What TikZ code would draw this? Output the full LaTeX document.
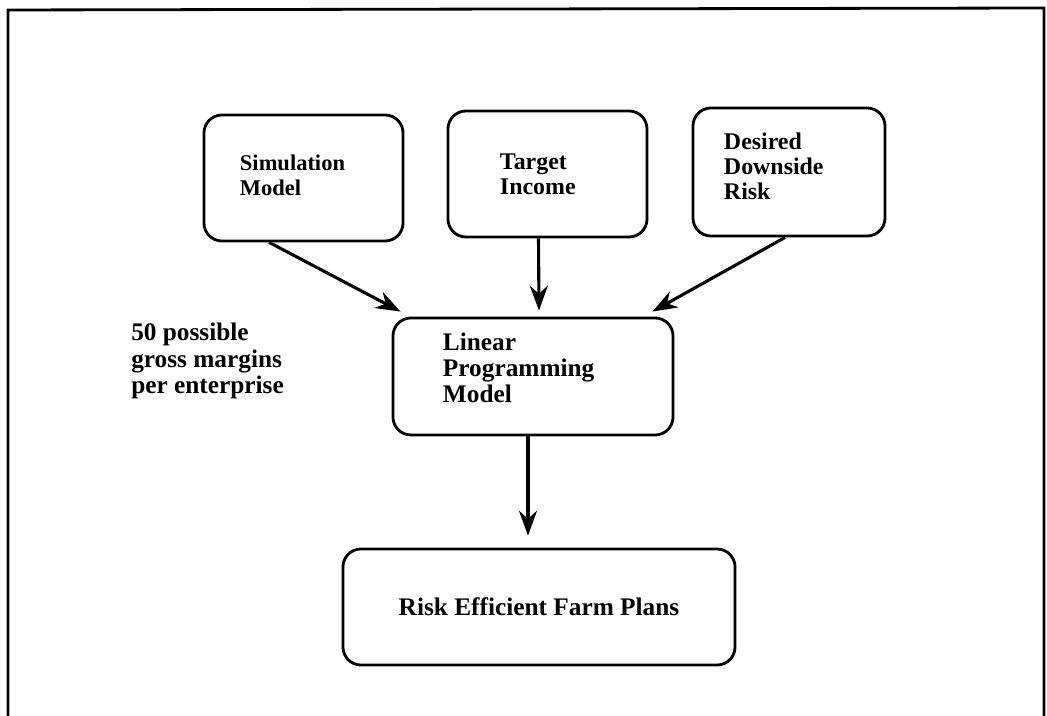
\documentclass[tikz,border=0pt]{standalone}
\usepackage{fontspec}
\setmainfont{Liberation Serif}
\usetikzlibrary{arrows.meta}
\usetikzlibrary{calc}

\newcommand{\liftby}[1]{\par\hrule height 0pt depth #1 width 0pt}

\begin{document}
\begin{tikzpicture}[x = 0.025cm, y = 0.025cm]
\tikzstyle{BoxStyle}=[draw, line width = 2pt, rounded corners = 0.45cm,
align = left, inner ysep = 0pt, font = \bfseries\fontsize{17}{17.8}\selectfont]
\tikzstyle{ArrowStyle}=[line width = 2.2pt, -{Stealth[length = 0.62cm, width = 0.45cm]}]
\useasboundingbox (0,0) rectangle (1047,716);
% frame, open at the bottom
\draw[line width = 2pt] (8,0) -- (8,706) -- (1044,708) -- (1044,0);
\node[BoxStyle, minimum width = 4.975cm, minimum height = 3.15cm, inner xsep = 0.9cm,
text width = 3.175cm, font = \bfseries\fontsize{16}{17.8}\selectfont] (sim) at (303.5,538) {Simulation\\Model\liftby{0.15cm}};
\node[BoxStyle, minimum width = 4.975cm, minimum height = 3.15cm, inner xsep = 1.3cm,
text width = 2.375cm] (tgt) at (547.5,542) {Target\\Income};
\node[BoxStyle, minimum width = 4.8cm, minimum height = 3.2cm, inner xsep = 0.775cm,
text width = 3.25cm] (des) at (789,544) {Desired\\Downside\\Risk\liftby{0.3cm}};
\node[BoxStyle, minimum width = 7cm, minimum height = 2.925cm, inner xsep = 1.25cm,
text width = 4.5cm, font = \bfseries\fontsize{18}{18.5}\selectfont] (lp) at (533,339.5) {Linear\\Programming\\Model\liftby{0.45cm}};
\node[BoxStyle, minimum width = 9.8cm, minimum height = 2.9cm, align = center,
font = \bfseries\fontsize{18}{17.8}\selectfont] (risk) at (539,109) {Risk Efficient Farm Plans};
\node[anchor = north west, inner sep = 0pt, align = left,
font = \bfseries\fontsize{18}{18.8}\selectfont] (gm) at (131,393) {50 possible\\gross margins\\per enterprise};
\draw[ArrowStyle] ($(sim.south west)!0.33!(sim.south east)$) -- ($(lp.north west)+(9,5)$);
\draw[ArrowStyle] ($(tgt.south)+(-9,0)$) -- ($(lp.north)+(6,6)$);
\draw[ArrowStyle] ($(des.south west)!0.48!(des.south east)$) -- ($(lp.north east)+(-22,5)$);
\draw[ArrowStyle] ($(lp.south)+(-5,0)$) -- ($(risk.north)+(-11,12)$);
\end{tikzpicture}
\end{document}
